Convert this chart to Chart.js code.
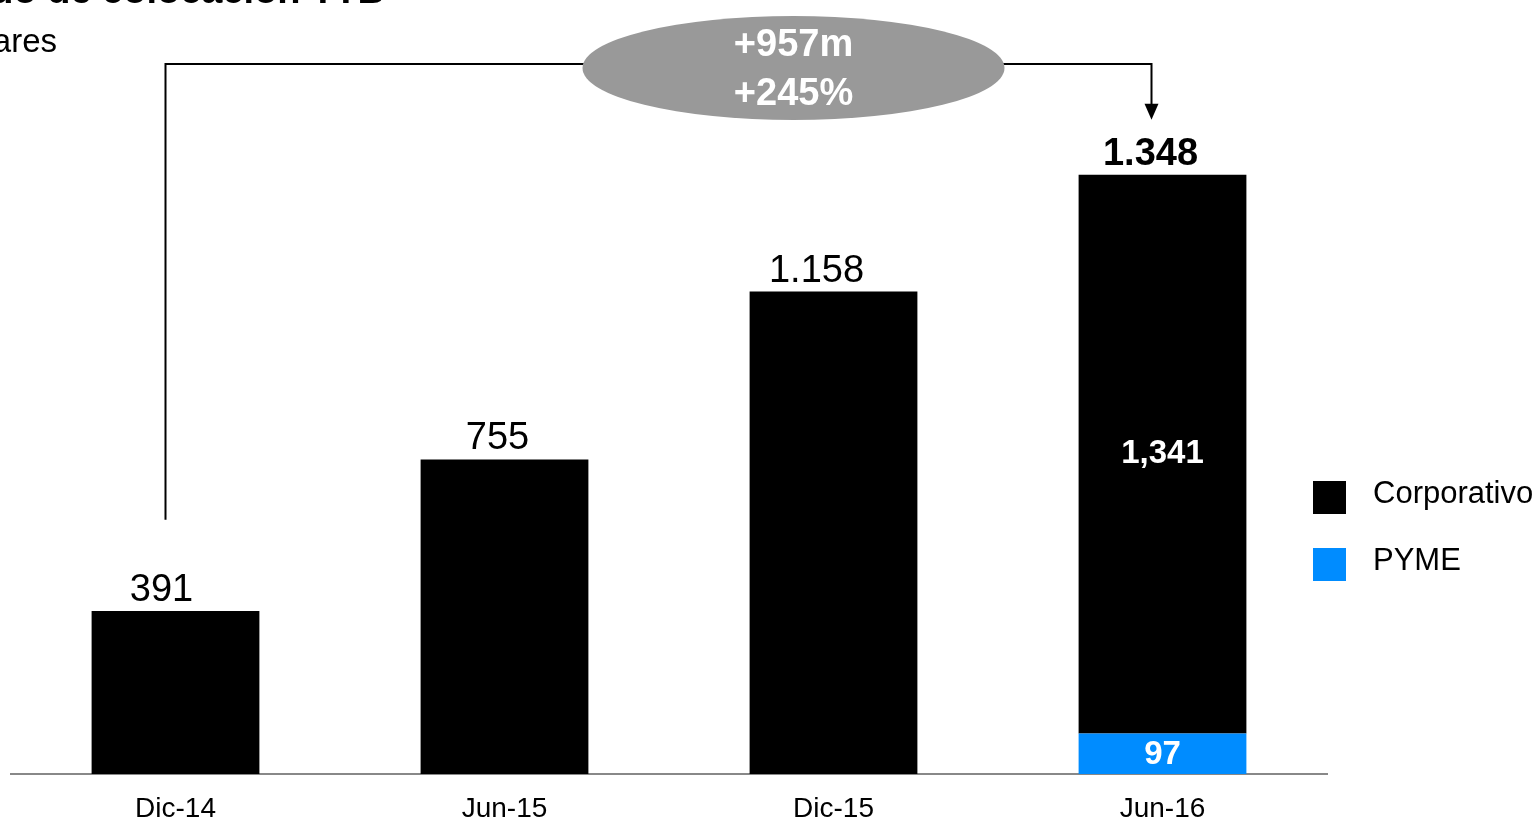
<!DOCTYPE html>
<html lang="es">
<head>
  <meta charset="UTF-8">
  <title>Saldo de colocación TTB</title>
  <script src="https://cdn.jsdelivr.net/npm/chart.js"></script>
  <style>
    html, body { margin: 0; padding: 0; background: #fff; overflow: hidden; }
    #wrap { width: 1540px; height: 820px; position: relative; overflow: hidden; }
  </style>
</head>
<body>
  <div id="wrap"><canvas id="saldoChart" width="1540" height="850"></canvas></div>

  <script>
    // Data
    const periods = ['Dic-14', 'Jun-15', 'Dic-15', 'Jun-16'];
    const corporativo = [391, 755, 1158, 1341];
    const pyme = [0, 0, 0, 97];
    const totalLabels = ['391', '755', '1.158', '1.348'];
    const totalBold = [false, false, false, true];
    const growthText = ['+957m', '+245%'];

    const FONT = '"Liberation Sans", Arial, Helvetica, sans-serif';
    const BLUE = '#008CFF';
    const labelShift = [-14, -7, -17, -12]; // labels sit a bit left of bar centre

    // labels, legend and the growth bracket
    const decorPlugin = {
      id: 'decor',
      afterDraw(chart) {
        const ctx = chart.ctx;
        const x = chart.scales.x, y = chart.scales.y;
        const area = chart.chartArea;
        ctx.save();

        // cut-off title and unit line at top-left
        ctx.fillStyle = '#000';
        ctx.textAlign = 'right';
        ctx.textBaseline = 'alphabetic';
        ctx.font = 'bold 38px ' + FONT;
        ctx.fillText('Saldo de colocación TTB', 385, 3);
        ctx.font = '33px ' + FONT;
        ctx.fillText('Millones de dólares', 57, 52);

        // totals above bars
        ctx.textAlign = 'center';
        periods.forEach((p, i) => {
          const total = corporativo[i] + pyme[i];
          const px = x.getPixelForValue(i) + labelShift[i];
          const top = y.getPixelForValue(total);
          ctx.font = (totalBold[i] ? 'bold ' : '') + '38px ' + FONT;
          ctx.fillStyle = '#000';
          ctx.fillText(totalLabels[i], px, top - 10);
        });

        // segment labels inside the stacked bar
        ctx.textBaseline = 'middle';
        ctx.font = 'bold 33px ' + FONT;
        ctx.fillStyle = '#fff';
        pyme.forEach((v, i) => {
          if (!v) return;
          const px = x.getPixelForValue(i);
          const mid1 = (y.getPixelForValue(v) + y.getPixelForValue(v + corporativo[i])) / 2;
          const mid2 = (y.getPixelForValue(0) + y.getPixelForValue(v)) / 2;
          ctx.fillText(corporativo[i].toLocaleString('en-US'), px, mid1);
          ctx.fillText(String(v), px, mid2 + 1);
        });

        // legend
        const items = chart.data.datasets.slice().reverse();
        const lx = area.right - 14;
        items.forEach((ds, k) => {
          const cy = 497 + k * 67;
          ctx.fillStyle = ds.backgroundColor;
          ctx.fillRect(lx, cy - 16, 33, 33);
          ctx.fillStyle = '#000';
          ctx.textAlign = 'left';
          ctx.font = '31px ' + FONT;
          ctx.fillText(ds.label, lx + 60, cy - 3);
        });

        // growth bracket from first to last bar
        const x0 = x.getPixelForValue(0) - 10;
        const x3 = x.getPixelForValue(3) - 11;
        const yTop = y.getPixelForValue(1704);
        const yStart = y.getPixelForValue(610);
        const yTip = y.getPixelForValue(1570);
        ctx.strokeStyle = '#000';
        ctx.lineWidth = 2;
        ctx.beginPath();
        ctx.moveTo(x0, yStart);
        ctx.lineTo(x0, yTop);
        ctx.lineTo(x3, yTop);
        ctx.lineTo(x3, yTip - 15);
        ctx.stroke();
        ctx.fillStyle = '#000';
        ctx.beginPath();
        ctx.moveTo(x3 - 7, yTip - 16);
        ctx.lineTo(x3 + 7, yTip - 16);
        ctx.lineTo(x3, yTip);
        ctx.closePath();
        ctx.fill();

        const ex = x.getPixelForValue(2) - 40;
        const ey = yTop + 4;
        ctx.fillStyle = '#999999';
        ctx.beginPath();
        ctx.ellipse(ex, ey, 211, 52, 0, 0, Math.PI * 2);
        ctx.fill();
        ctx.fillStyle = '#fff';
        ctx.textAlign = 'center';
        ctx.textBaseline = 'middle';
        ctx.font = 'bold 38px ' + FONT;
        ctx.fillText(growthText[0], ex, ey - 22);
        ctx.fillText(growthText[1], ex, ey + 27);

        ctx.restore();
      }
    };

    new Chart(document.getElementById('saldoChart'), {
      type: 'bar',
      data: {
        labels: periods,
        datasets: [
          { label: 'PYME', data: pyme, backgroundColor: BLUE },
          { label: 'Corporativo', data: corporativo, backgroundColor: '#000000' }
        ]
      },
      options: {
        responsive: false,
        animation: false,
        devicePixelRatio: 1,
        layout: { padding: { left: 11, right: 213, top: 24, bottom: 6 } },
        datasets: { bar: { categoryPercentage: 1, barPercentage: 0.51 } },
        plugins: { legend: { display: false }, tooltip: { enabled: false } },
        scales: {
          x: {
            stacked: true,
            grid: { display: false, drawTicks: false },
            border: { display: true, color: '#888888', width: 2 },
            ticks: { color: '#000', padding: 21, font: { family: FONT, size: 28, lineHeight: 1 } }
          },
          y: {
            stacked: true,
            display: false,
            min: 0,
            max: 1800
          }
        }
      },
      plugins: [decorPlugin]
    });
  </script>
</body>
</html>
